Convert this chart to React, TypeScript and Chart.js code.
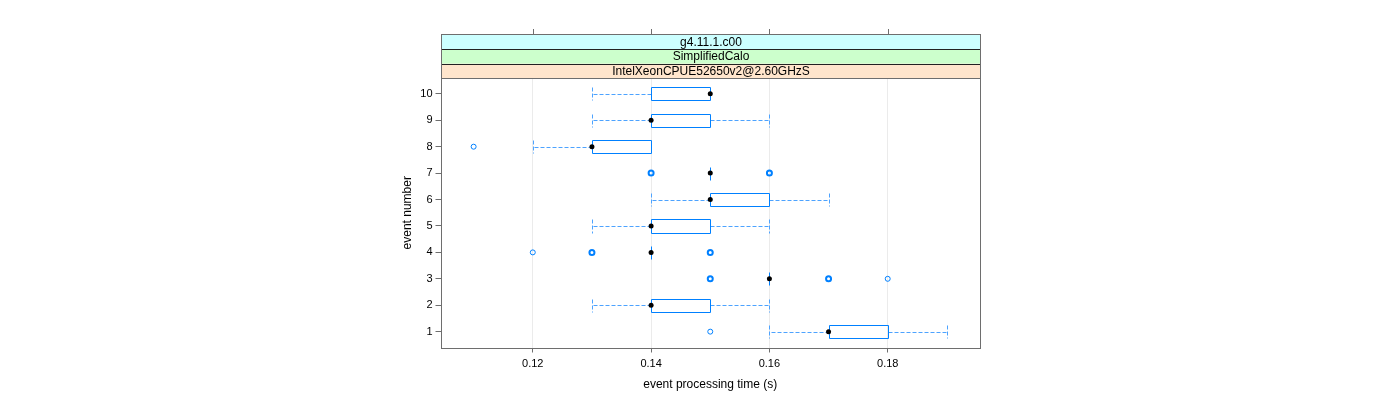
import React, { useEffect, useRef } from "react";
import { Chart, registerables } from "chart.js";

Chart.register(...registerables);

const events = [1, 2, 3, 4, 5, 6, 7, 8, 9, 10];
const whiskerLow = [0.16, 0.13, 0.16, 0.14, 0.13, 0.14, 0.15, 0.12, 0.13, 0.13];
const q1 = [0.17, 0.14, 0.16, 0.14, 0.14, 0.15, 0.15, 0.13, 0.14, 0.14];
const median = [0.17, 0.14, 0.16, 0.14, 0.14, 0.15, 0.15, 0.13, 0.14, 0.15];
const q3 = [0.18, 0.15, 0.16, 0.14, 0.15, 0.16, 0.15, 0.14, 0.15, 0.15];
const whiskerHigh = [0.19, 0.16, 0.16, 0.14, 0.16, 0.17, 0.15, 0.14, 0.16, 0.15];

const outlierEvent = [1, 3, 3, 3, 4, 4, 4, 7, 7, 8];
const outlierValue = [0.15, 0.15, 0.17, 0.18, 0.12, 0.13, 0.15, 0.14, 0.16, 0.11];
const outlierCount = [1, 2, 2, 1, 1, 2, 2, 2, 2, 1];

const xTicks = [0.12, 0.14, 0.16, 0.18];
const yTicks = [1, 2, 3, 4, 5, 6, 7, 8, 9, 10];

const strips = ["g4.11.1.c00", "SimplifiedCalo", "IntelXeonCPUE52650v2@2.60GHzS"];
const stripColors = ["#CCFFFF", "#CCFFCC", "#FFE5CC"];

const FONT = "'Liberation Sans', Arial, Helvetica, sans-serif";
const BOX_COL = "#0080ff";
const WHISK_COL = "#4da3ff";
const FRAME_COL = "#6e6e6e";

const boxPlugin = {
  id: "boxes",
  beforeDatasetsDraw(chart: any) {
    const ctx = chart.ctx;
    const xs = chart.scales.x;
    const ys = chart.scales.y;
    const half = 0.25;
    ctx.save();
    events.forEach((ev, i) => {
      const yc = ys.getPixelForValue(ev);
      const yt = Math.round(ys.getPixelForValue(ev + half)) + 0.5;
      const yb = Math.round(ys.getPixelForValue(ev - half)) + 0.5;
      const px = (v: number) => Math.round(xs.getPixelForValue(v)) + 0.5;
      const xl = px(q1[i]);
      const xr = px(q3[i]);
      const wl = px(whiskerLow[i]);
      const wh = px(whiskerHigh[i]);
      const ym = Math.round(yc) + 0.5;
      ctx.strokeStyle = WHISK_COL;
      ctx.lineWidth = 1;
      ctx.setLineDash([4, 2]);
      if (whiskerLow[i] < q1[i]) {
        ctx.beginPath();
        ctx.moveTo(xl, ym);
        ctx.lineTo(wl, ym);
        ctx.moveTo(wl, yt);
        ctx.lineTo(wl, yb);
        ctx.stroke();
      }
      if (whiskerHigh[i] > q3[i]) {
        ctx.beginPath();
        ctx.moveTo(xr, ym);
        ctx.lineTo(wh, ym);
        ctx.moveTo(wh, yt);
        ctx.lineTo(wh, yb);
        ctx.stroke();
      }
      ctx.setLineDash([]);
      ctx.strokeStyle = BOX_COL;
      ctx.beginPath();
      if (xr - xl < 1) {
        ctx.moveTo(xl, yt);
        ctx.lineTo(xl, yb);
      } else {
        ctx.rect(xl, yt, xr - xl, yb - yt);
      }
      ctx.stroke();
    });
    ctx.restore();
  },
  afterDraw(chart: any) {
    const ctx = chart.ctx;
    const { left, right, top, bottom } = chart.chartArea;
    const xs = chart.scales.x;
    ctx.save();
    const stripH = 14.7;
    const l = Math.round(left) + 0.5;
    const r = Math.round(right) + 0.5;
    const bottomStrip = Math.round(top) + 0.5;
    for (let k = 0; k < strips.length; k++) {
      const yb = bottomStrip - (strips.length - 1 - k) * stripH;
      const yt = yb - stripH;
      ctx.fillStyle = stripColors[k];
      ctx.fillRect(l, yt, r - l, stripH);
      ctx.fillStyle = "#000";
      ctx.font = `12px ${FONT}`;
      ctx.textAlign = "center";
      ctx.textBaseline = "middle";
      ctx.fillText(strips[k], (l + r) / 2, yt + stripH / 2 + 0.5);
    }
    const stripTop = bottomStrip - strips.length * stripH;
    ctx.strokeStyle = "#222";
    ctx.lineWidth = 1;
    for (let k = 1; k < strips.length; k++) {
      const yy = Math.round(stripTop + k * stripH) + 0.5;
      ctx.beginPath();
      ctx.moveTo(l, yy);
      ctx.lineTo(r, yy);
      ctx.stroke();
    }
    ctx.strokeStyle = FRAME_COL;
    ctx.strokeRect(l, Math.round(stripTop) + 0.5, r - l, bottomStrip - Math.round(stripTop) - 0.5);
    ctx.beginPath();
    xTicks.forEach((v) => {
      const x = Math.round(xs.getPixelForValue(v)) + 0.5;
      ctx.moveTo(x, Math.round(stripTop));
      ctx.lineTo(x, Math.round(stripTop) - 5);
    });
    ctx.stroke();
    ctx.strokeStyle = FRAME_COL;
    ctx.strokeRect(l, Math.round(top) + 0.5, r - l, Math.round(bottom) - Math.round(top));
    ctx.restore();
  },
};

export default function App() {
  const ref = useRef<HTMLCanvasElement | null>(null);
  useEffect(() => {
    if (!ref.current) return;
    const medianData = events.map((e, i) => ({ x: median[i], y: e }));
    const outlierData = outlierEvent.map((e, i) => ({ x: outlierValue[i], y: e }));
    const chart = new Chart(ref.current, {
      type: "scatter",
      data: {
        datasets: [
          {
            label: "outliers",
            data: outlierData,
            pointRadius: 2.5,
            pointBorderColor: BOX_COL,
            pointBackgroundColor: "rgba(255,255,255,0)",
            pointBorderWidth: outlierCount.map((c) => (c > 1 ? 2 : 1)),
          } as any,
          {
            label: "median",
            data: medianData,
            pointRadius: 2.5,
            pointBorderWidth: 0,
            pointBackgroundColor: "#000",
            pointBorderColor: "#000",
          } as any,
        ],
      },
      options: {
        responsive: false,
        animation: false,
        events: [],
        layout: { padding: { left: 390, right: 420, top: 78, bottom: 0 } },
        plugins: { legend: { display: false }, tooltip: { enabled: false } },
        scales: {
          x: {
            type: "linear",
            min: 0.1044,
            max: 0.1956,
            afterBuildTicks: (s: any) => {
              s.ticks = xTicks.map((v) => ({ value: v }));
            },
            afterFit: (s: any) => {
              s.height = 52.5;
            },
            ticks: {
              font: { size: 11, family: FONT },
              color: "#000",
              padding: 5,
              maxRotation: 0,
              callback: (v: any) => Number(v).toFixed(2),
            },
            grid: { color: "#ebebeb", tickColor: FRAME_COL, tickLength: 5, lineWidth: 1 },
            border: { display: false },
            title: {
              display: true,
              text: "event processing time (s)",
              font: { size: 12, family: FONT },
              color: "#000",
              padding: { top: 0, bottom: 8 },
            },
          },
          y: {
            type: "linear",
            min: 0.4,
            max: 10.6,
            afterBuildTicks: (s: any) => {
              s.ticks = yTicks.map((v) => ({ value: v }));
            },
            afterFit: (s: any) => {
              s.width = 50.5;
            },
            ticks: {
              font: { size: 11, family: FONT },
              color: "#000",
              padding: 3,
              callback: (v: any) => String(v),
            },
            grid: { color: "rgba(0,0,0,0)", tickColor: FRAME_COL, tickLength: 5 },
            border: { display: false },
            title: {
              display: true,
              text: "event number",
              font: { size: 12, family: FONT },
              color: "#000",
              padding: { top: 10, bottom: 0 },
            },
          },
        },
      },
      plugins: [boxPlugin],
    });
    return () => chart.destroy();
  }, []);
  return (
    <div style={{ position: "absolute", left: 0, top: 0, width: 1400, height: 400, background: "#fff" }}>
      <canvas ref={ref} width={1400} height={400} style={{ width: 1400, height: 400 }} />
    </div>
  );
}
